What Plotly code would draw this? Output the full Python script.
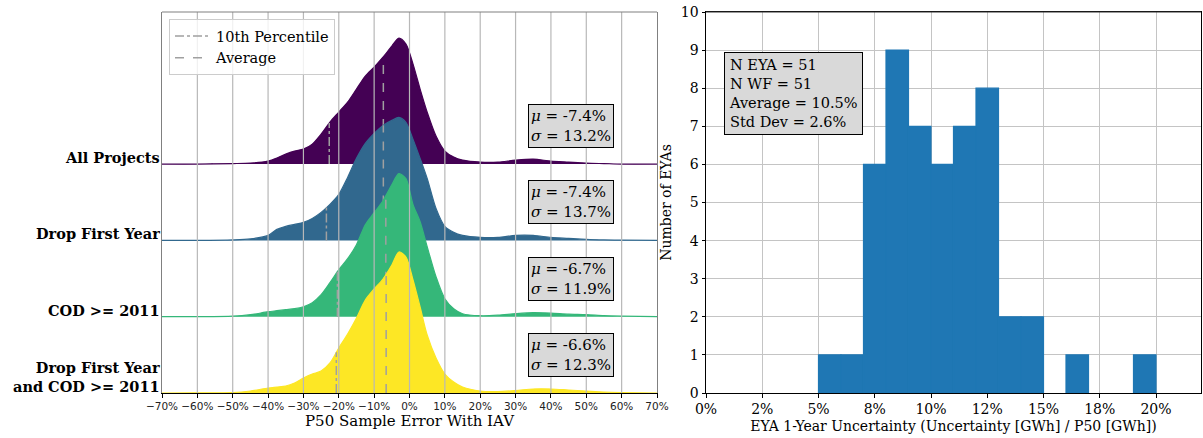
import numpy as np
import plotly.graph_objects as go

# ---- left panel: P50 sample error distributions (ridgeline) ----
group_names = ["All Projects", "Drop First Year", "COD >= 2011",
               "Drop First Year<br>and COD >= 2011"]
group_colors = ["#440154", "#31688e", "#35b779", "#fde725"]

err_x = [-70, -60, -50, -45, -40, -37.5, -35, -32.5, -30, -27.5, -25, -22.5,
         -20, -17.5, -15, -12.5, -10, -7.5, -5, -3, -1, 1, 3, 5, 7.5, 10,
         12.5, 15, 20, 25, 30, 35, 40, 45, 50, 55, 60, 70]

dens_all = [0, 0, 0.5, 1, 3, 6, 10, 13, 15, 20, 30, 42, 52, 62, 75, 88, 97,
            107, 118, 126, 120, 100, 75, 52, 28, 13, 7, 4, 2, 2, 4, 5, 3, 2,
            1, 0.5, 0, 0]
dens_drop = [0, 0, 0.5, 1.5, 5, 11, 14, 16, 18, 22, 28, 36, 46, 63, 82, 97,
             107, 115, 120, 123, 118, 101, 82, 62, 32, 14, 8, 5, 3, 3, 5, 5,
             3, 2, 1, 0.5, 0.3, 0]
dens_cod = [0, 0, 0.5, 2, 5, 6, 7, 8, 10, 14, 22, 34, 47, 58, 72, 92, 104,
            116, 132, 143, 138, 112, 95, 70, 40, 18, 8, 3, 1, 1.5, 3, 4, 3.5,
            2.5, 2, 1, 0.5, 0]
dens_both = [0, 0.2, 0.5, 2, 5, 6, 7, 10, 15, 19, 22, 30, 45, 59, 75, 93,
             104, 114, 128, 141, 136, 113, 86, 58, 35, 19, 11, 6, 2, 1.5, 2.5,
             4, 4, 3, 2, 1, 0.5, 0]

group_mean = [-7.4, -7.4, -6.7, -6.6]
group_std = [13.2, 13.7, 11.9, 12.3]
group_p10 = [-22.7, -23.5, -20.4, -20.7]

err_ticks = [-70, -60, -50, -40, -30, -20, -10, 0, 10, 20, 30, 40, 50, 60, 70]

# ---- right panel: EYA 1-year uncertainty histogram ----
unc_bin_left = [0.05, 0.06, 0.07, 0.08, 0.09, 0.10, 0.11, 0.12, 0.13, 0.14,
                0.15, 0.16, 0.17, 0.18, 0.19]
unc_counts = [1, 1, 6, 9, 7, 6, 7, 8, 2, 2, 0, 1, 0, 0, 1]
unc_ticks = [0, 0.025, 0.05, 0.075, 0.1, 0.125, 0.15, 0.175, 0.2]
unc_tick_labels = ["0%", "2%", "5%", "8%", "10%", "12%", "15%", "18%", "20%"]

W, H = 1203, 438


def fx(px):
    return px / W


def fy(py):
    return 1 - py / H


SERIF = "DejaVu Serif"
row_gap = 76.3
grid_col = "#b8b8b8"
line_gray = "#a0a0a0"
hist_blue = "#1f77b4"

fig = go.Figure()

densities = [dens_all, dens_drop, dens_cod, dens_both]
n = len(densities)
for i, dens in enumerate(densities):
    base = (n - 1 - i) * row_gap
    col = group_colors[i]
    fig.add_trace(go.Scatter(
        x=err_x, y=[base] * len(err_x), mode="lines",
        line=dict(color=col, width=0), showlegend=False, hoverinfo="skip"))
    fig.add_trace(go.Scatter(
        x=err_x, y=[base + d for d in dens], mode="lines",
        line=dict(color=col, width=1.2, shape="spline", smoothing=0.8),
        fill="tonexty", fillcolor=col, showlegend=False,
        name=group_names[i].replace("<br>", " ")))
    # 10th percentile and mean markers
    h10 = float(np.interp(group_p10[i], err_x, dens))
    hmu = float(np.interp(group_mean[i], err_x, dens))
    fig.add_trace(go.Scatter(
        x=[group_p10[i]] * 2, y=[base, base + h10], mode="lines",
        line=dict(color=line_gray, width=1.5, dash="dashdot"),
        name="10th Percentile", legendgroup="p10", showlegend=(i == 0)))
    fig.add_trace(go.Scatter(
        x=[group_mean[i]] * 2, y=[base, base + hmu], mode="lines",
        line=dict(color=line_gray, width=1.5, dash="dash"),
        name="Average", legendgroup="avg", showlegend=(i == 0)))

    fig.add_annotation(
        x=33.6, y=base + 16, xref="x", yref="y", xanchor="left",
        yanchor="bottom", align="left",
        text=f"<i>μ</i> = {group_mean[i]}%<br><i>σ</i> = {group_std[i]}%",
        font=dict(family=SERIF, size=15, color="black"),
        bgcolor="#d9d9d9", bordercolor="black", borderwidth=1, borderpad=2,
        showarrow=False)
    fig.add_annotation(
        x=fx(161.5), y=base, xref="paper", yref="y", xanchor="right",
        yanchor="bottom", yshift=-4, align="right",
        text=f"<b>{group_names[i]}</b>",
        font=dict(family=SERIF, size=14.5, color="black"), showarrow=False)

# gridlines sit on top of the ridges
for v in err_ticks[1:-1]:
    fig.add_shape(type="line", x0=v, x1=v, y0=0, y1=1, xref="x",
                  yref="y domain", layer="above",
                  line=dict(color=grid_col, width=1.2))
fig.add_shape(type="line", x0=0, x1=1, y0=1, y1=1, xref="x domain",
              yref="y domain", line=dict(color="#808080", width=1.2))

# histogram (outline in the fill colour hides the seams between bins)
fig.add_trace(go.Bar(
    x=[b + 0.005 for b in unc_bin_left], y=unc_counts, width=0.01,
    marker=dict(color=hist_blue,
                line=dict(color=hist_blue,
                          width=[1.2 if c else 0 for c in unc_counts])),
    xaxis="x2", yaxis="y2", showlegend=False))
fig.add_shape(type="line", x0=0, x1=1, y0=1, y1=1, xref="x2 domain",
              yref="y2 domain", line=dict(color="#333333", width=1.2))

fig.add_annotation(
    x=0.008, y=8.95, xref="x2", yref="y2", xanchor="left", yanchor="top",
    align="left",
    text="N EYA = 51<br>N WF = 51<br>Average = 10.5%<br>Std Dev = 2.6%",
    font=dict(family=SERIF, size=14.5, color="black"),
    bgcolor="#d9d9d9", bordercolor="black", borderwidth=1, borderpad=4,
    showarrow=False)

y_dom = [fy(393), fy(12)]
fig.update_layout(
    template="none",
    width=W, height=H,
    margin=dict(l=0, r=0, t=0, b=0, autoexpand=False),
    paper_bgcolor="white", plot_bgcolor="white",
    font=dict(family=SERIF, size=14, color="black"),
    legend=dict(x=fx(169), y=fy(19), xanchor="left", yanchor="top",
                bgcolor="rgba(255,255,255,0.8)", bordercolor="#cccccc",
                borderwidth=1, font=dict(family=SERIF, size=14.5),
                tracegroupgap=0, itemwidth=36),
    xaxis=dict(
        domain=[fx(162), fx(657)], range=[-70, 70], automargin=False,
        tickvals=err_ticks,
        ticktext=[f"{v}%".replace("-", "\u2212") for v in err_ticks],
        tickfont=dict(family="DejaVu Sans", size=10.5, color="#222"),
        ticks="outside", ticklen=3.5, tickcolor="black",
        showgrid=False, zeroline=False,
        showline=True, linecolor="black", linewidth=1.2,
        title=dict(text="P50 Sample Error With IAV",
                   font=dict(family=SERIF, size=15), standoff=4)),
    yaxis=dict(
        domain=y_dom, range=[0, 381], showticklabels=False, ticks="",
        automargin=False,
        showgrid=False, zeroline=False, showline=True,
        linecolor="#808080", linewidth=1.2, mirror=True),
    xaxis2=dict(
        domain=[fx(706), fx(1201)], range=[0, 0.22], anchor="y2",
        automargin=False,
        tickvals=unc_ticks, ticktext=unc_tick_labels,
        tickfont=dict(family=SERIF, size=14),
        ticks="outside", ticklen=3.5, tickcolor="black",
        showgrid=True, gridcolor="#c4c4c4", gridwidth=1, zeroline=False,
        showline=True, linecolor="black", linewidth=1, mirror=True,
        title=dict(text="EYA 1-Year Uncertainty (Uncertainty [GWh] / P50 [GWh])",
                   font=dict(family=SERIF, size=14), standoff=4)),
    yaxis2=dict(
        domain=y_dom, range=[0, 10], anchor="x2", dtick=1,
        automargin=False, ticklabeloverflow="allow",
        tickfont=dict(family=SERIF, size=14),
        ticks="outside", ticklen=3.5, tickcolor="black",
        showgrid=True, gridcolor="#c4c4c4", gridwidth=1, zeroline=False,
        showline=True, linecolor="black", linewidth=1, mirror=True,
        title=dict(text="Number of EYAs", font=dict(family=SERIF, size=14),
                   standoff=5)),
)

# drop the browser's default 8px body margin so the figure fills the window
fig.write_html("out.html", config={"displayModeBar": False},
               post_script="document.body.style.margin = '0';")
